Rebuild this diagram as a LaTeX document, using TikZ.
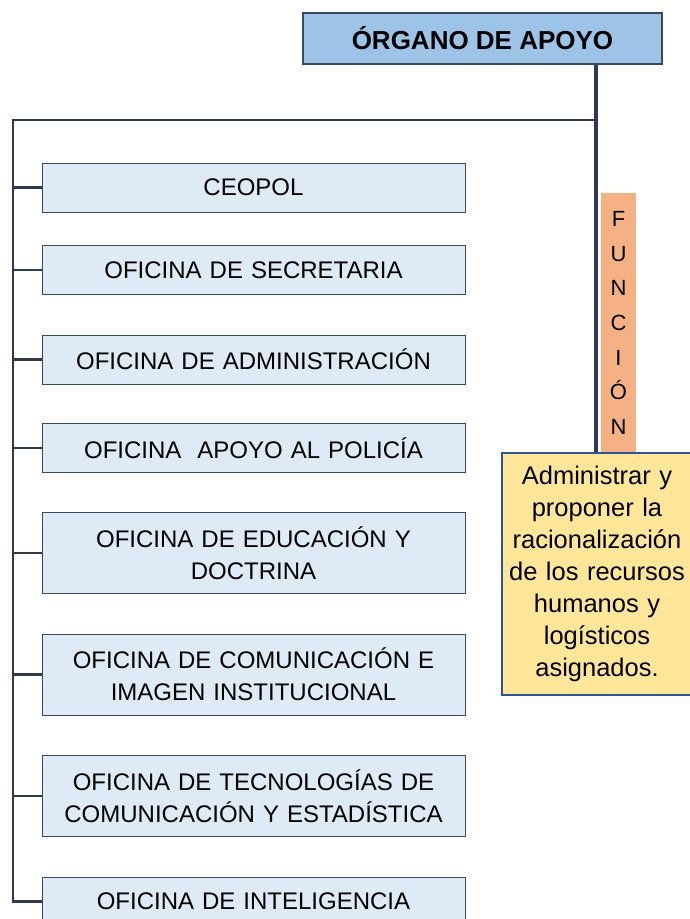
\documentclass[tikz,border=0pt]{standalone}
\usepackage{fontspec}
\setmainfont{Liberation Sans}
\usepackage{xcolor}
\usepackage{tikz}
\usetikzlibrary{positioning,calc}
\definecolor{edge}{HTML}{3A4A5E}
\definecolor{wirec}{HTML}{2E3B4E}
\definecolor{headbg}{HTML}{9DC3E6}
\definecolor{unitbg}{HTML}{DEEAF6}
\definecolor{funbg}{HTML}{F4B183}
\definecolor{dutybg}{HTML}{FFE699}
\definecolor{dutyline}{HTML}{2F5597}
\tikzset{
  head/.style={draw=edge,line width=1.2pt,fill=headbg,minimum width=359pt,minimum height=51pt,
    inner sep=0pt,font=\fontsize{26}{30}\selectfont\bfseries},
  unit/.style={draw=edge,line width=1pt,fill=unitbg,minimum width=423pt,minimum height=49pt,
    text width=410pt,inner sep=0pt,align=center,font=\fontsize{24}{32}\selectfont},
  unit2/.style={unit,minimum height=81pt},
  funstrip/.style={fill=funbg,minimum width=35pt,minimum height=260pt,inner sep=0pt,
    align=center,font=\fontsize{22}{34.7}\selectfont},
  duty/.style={draw=dutyline,line width=1.2pt,fill=dutybg,minimum width=190pt,minimum height=242pt,
    text width=188pt,inner sep=0pt,align=center,font=\fontsize{25.5}{32}\selectfont},
  wire/.style={draw=wirec,line width=2.8pt},
}
\begin{document}
\begin{tikzpicture}[x=1pt,y=-1pt]
  \useasboundingbox (0,0) rectangle (690,919);
  \node[head](top) at (482.5,38.5){ÓRGANO DE APOYO};
  % unidades
  \node[unit](u1) at (253.5,187.5){CEOPOL};
  \node[unit](u2) at (253.5,270){OFICINA DE SECRETARIA};
  \node[unit](u3) at (253.5,359.5){OFICINA DE ADMINISTRACIÓN};
  \node[unit](u4) at (253.5,448){OFICINA\ \ APOYO AL POLICÍA};
  \node[unit2](u5) at (253.5,553){OFICINA DE EDUCACIÓN Y\\DOCTRINA};
  \node[unit2](u6) at (253.5,674.5){OFICINA DE COMUNICACIÓN E\\IMAGEN INSTITUCIONAL};
  \node[unit2](u7) at (253.5,796){OFICINA DE TECNOLOGÍAS DE\\COMUNICACIÓN Y ESTADÍSTICA};
  \node[unit](u8) at (253.5,901.5){OFICINA DE INTELIGENCIA};
  % funcion
  \node[funstrip](fun) at (618.5,323){F\\U\\N\\C\\I\\Ó\\N};
  \node[duty](task) at (597,574){Administrar y\\proponer la\\racionalización\\de los recursos\\humanos y\\logísticos\\asignados.};
  % conectores
  \coordinate (drop) at (596,0);
  \coordinate (rail) at (13,120);
  \draw[wire,line width=3.6pt] (drop |- top.south) -- (drop |- task.north);
  \draw[wire] (drop |- rail) -- (rail) -- (rail |- u8.west) -- (u8.west);
  \foreach \n in {u1,u2,u3,u4,u5,u6,u7}
    \draw[wire] (rail |- \n.west) -- (\n.west);
\end{tikzpicture}
\end{document}
